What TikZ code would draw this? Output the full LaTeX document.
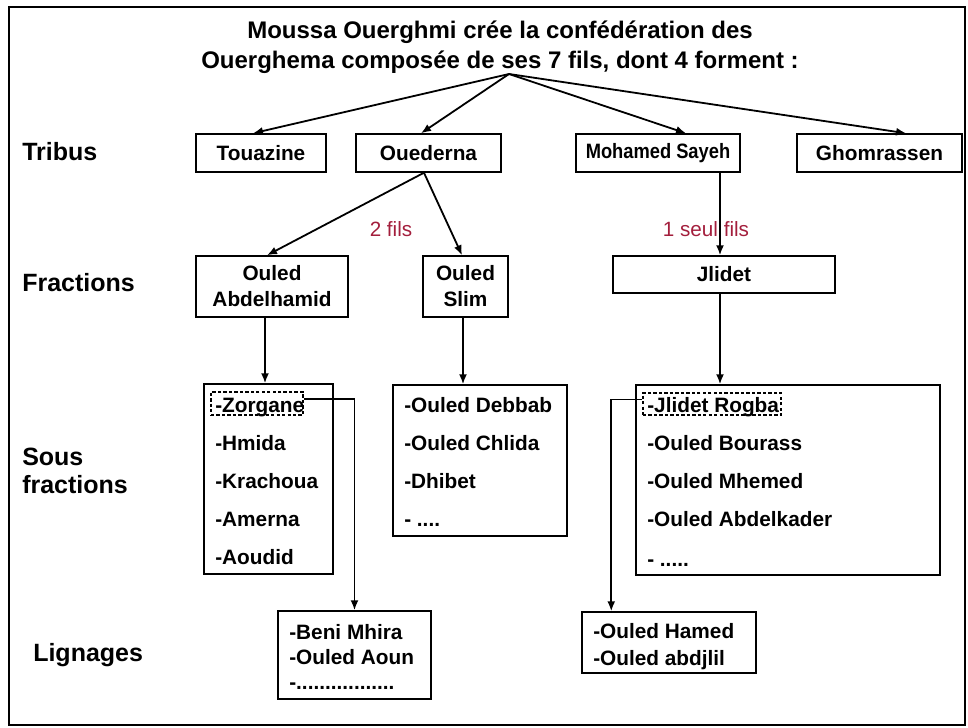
\documentclass[tikz,border=0pt]{standalone}
\usepackage{fontspec}
\setmainfont{Liberation Sans}
\usetikzlibrary{arrows.meta}
\definecolor{filsred}{RGB}{163,30,60}
\begin{document}
\begin{tikzpicture}[x=0.75pt,y=-0.75pt,
  lbl/.style={font=\fontsize{18.75}{21}\selectfont\bfseries, anchor=west, inner sep=0, align=left},
  ttl/.style={font=\fontsize{18}{22}\selectfont\bfseries, anchor=base, inner sep=0},
  box/.style 2 args={draw, line width=1.1pt, minimum width={#1*0.75pt}, minimum height={#2*0.75pt}, inner sep=0, font=\fontsize{15.6}{19.5}\selectfont\bfseries, align=center},
  item/.style={font=\fontsize{15.6}{19.5}\selectfont\bfseries, anchor=base west, inner sep=0},
  dbox/.style 2 args={draw, line width=0.9pt, dash pattern=on 2.5pt off 1.6pt, minimum width={#1*0.75pt}, minimum height={#2*0.75pt}, inner sep=0},
  arr/.style={line width=1.35pt, -{Latex[length=7.5pt,width=6pt]}},
  note/.style={font=\fontsize{15.5}{19}\selectfont, text=filsred, inner sep=0}
]
\useasboundingbox (0,0) rectangle (968,728);
\draw[line width=1.1pt] (9,7) rectangle (965,725);

% title
\node[ttl] (t1) at (500,38.5) {Moussa Ouerghmi crée la confédération des};
\node[ttl] (t2) at (500,68.5) {Ouerghema composée de ses 7 fils, dont 4 forment :};
\coordinate (src) at (509,74);

% row labels
\node[lbl] (tribus) at (22,152) {Tribus};
\node[lbl] (fractions) at (22,283) {Fractions};
\node[lbl] (sous) at (22,471) {Sous\\fractions};
\node[lbl] (lignages) at (33,655) {Lignages};

% tribus
\node[box={130}{38}] (tou) at (261,153) {Touazine};
\node[box={145}{38}] (oue) at (428.5,153) {Ouederna};
\node[box={164}{38}] (ms) at (658,153) {\scalebox{0.88}[1]{Mohamed Sayeh}};
\node[box={165}{38}] (gho) at (879.5,153) {Ghomrassen};

% fractions
\node[box={152}{61}] (abd) at (272,286.5) {Ouled\\Abdelhamid};
\node[box={85}{61}] (sli) at (465.5,286.5) {Ouled\\Slim};
\node[box={222}{37}] (jl) at (724,274.5) {Jlidet};

\node[note] (f2) at (391,229) {2 fils};
\node[note] (f1) at (706,229) {1 seul fils};

% sous fractions
\node[box={129}{190}] (sl) at (268.5,479) {};
\node[box={174}{151}] (sm) at (480,460.5) {};
\node[box={304}{190}] (sr) at (788,480) {};

\node[dbox={92}{23}] (zorg) at (257,403.5) {};
\node[dbox={138}{22}] (jr) at (712,404) {};

\node[item] (a1) at (215,412) {-Zorgane};
\node[item] (a2) at (215,450) {-Hmida};
\node[item] (a3) at (215,488) {-Krachoua};
\node[item] (a4) at (215,526) {-Amerna};
\node[item] (a5) at (215,564) {-Aoudid};

\node[item] (b1) at (404,412) {-Ouled Debbab};
\node[item] (b2) at (404,450) {-Ouled Chlida};
\node[item] (b3) at (404,488) {-Dhibet};
\node[item] (b4) at (404,526) {- ....};

\node[item] (c1) at (647,412) {-Jlidet Rogba};
\node[item] (c2) at (647,450) {-Ouled Bourass};
\node[item] (c3) at (647,488) {-Ouled Mhemed};
\node[item] (c4) at (647,526) {-Ouled Abdelkader};
\node[item] (c5) at (647,566) {- .....};

% lignages
\node[box={153}{88}] (lig1) at (354.5,655) {};
\node[box={174}{61}] (lig2) at (669,642.5) {};
\node[item] (d1) at (289,639.5) {-Beni Mhira};
\node[item] (d2) at (289,664.5) {-Ouled Aoun};
\node[item] (d3) at (289,689) {-.................};
\node[item] (e1) at (593,638.5) {-Ouled Hamed};
\node[item] (e2) at (593,665) {-Ouled abdjlil};

% column helpers
\coordinate (c265) at (265,0);
\coordinate (c463) at (463,0);
\coordinate (c720) at (720,0);

% connectors
\draw[arr] (src) -- ([xshift=-6pt]tou.north);
\draw[arr] (src) -- ([xshift=-5.6pt]oue.north);
\draw[arr] (src) -- ([xshift=21pt]ms.north);
\draw[arr] (src) -- ([xshift=20pt]gho.north);
\draw[arr] ([xshift=-3.4pt]oue.south) -- ([xshift=-3.75pt]abd.north);
\draw[arr] ([xshift=-3.4pt]oue.south) -- ([xshift=-2.6pt]sli.north);
\draw[arr] (ms.south -| c720) -- (jl.north -| c720);
\draw[arr] (abd.south -| c265) -- (sl.north -| c265);
\draw[arr] (sli.south -| c463) -- (sm.north -| c463);
\draw[arr] (jl.south -| c720) -- (sr.north -| c720);
\draw[arr] ([yshift=3.4pt]zorg.east) -| (lig1.north);
\draw[arr] ([yshift=3.4pt]jr.west) -| ([xshift=22.5pt]lig2.north west);
\end{tikzpicture}
\end{document}
